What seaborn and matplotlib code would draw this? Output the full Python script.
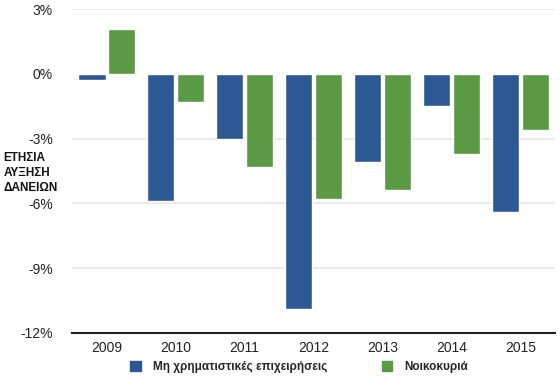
import matplotlib
matplotlib.use("Agg")
import matplotlib.pyplot as plt
import seaborn as sns
import pandas as pd
from matplotlib.patches import Patch

years = ["2009", "2010", "2011", "2012", "2013", "2014", "2015"]
series_names = ["Μη χρηματιστικές επιχειρήσεις", "Νοικοκυριά"]
nfc = [-0.3, -5.9, -3.0, -10.9, -4.1, -1.5, -6.4]
households = [2.1, -1.3, -4.3, -5.8, -5.4, -3.7, -2.6]
yticks = [3, 0, -3, -6, -9, -12]
ylabel = "ΕΤΗΣΙΑ\nΑΥΞΗΣΗ\nΔΑΝΕΙΩΝ"

colors = ["#2c5893", "#5b9a45"]

df = pd.DataFrame({
    "year": years * 2,
    "value": nfc + households,
    "series": [series_names[0]] * len(years) + [series_names[1]] * len(years),
})

sns.set_style("white")
plt.rcParams["font.family"] = ["Liberation Sans", "DejaVu Sans"]

fig = plt.figure(figsize=(5.6, 3.8), dpi=100)
ax = fig.add_axes([0.129, 0.124, 0.862, 0.852])

sns.barplot(data=df, x="year", y="value", hue="series", palette=colors,
            width=0.86, gap=0.08, ax=ax, legend=False, saturation=1)

ax.set_ylim(-12, 3)
ax.set_yticks(yticks)
ax.set_yticklabels([f"{t}%" for t in yticks], fontsize=10, color="#222222")
ax.tick_params(axis="x", labelsize=10, colors="#222222", length=0, pad=6)
ax.tick_params(axis="y", length=0, pad=14)
for t in [3, -3, -6, -9]:
    ax.axhline(t, color="#e6e6e6", lw=1.2, zorder=0)
ax.set_xlabel("")
ax.set_ylabel("")
for s in ["top", "right", "left"]:
    ax.spines[s].set_visible(False)
ax.spines["bottom"].set_color("#222222")
ax.spines["bottom"].set_linewidth(1.5)

fig.text(0.006, 0.545, ylabel, fontsize=8.5, fontweight="bold", ha="left",
         va="center", linespacing=1.35, color="#111111")

handles = [Patch(facecolor=c, edgecolor=c) for c in colors]
fig.legend(handles, series_names, loc="lower left", bbox_to_anchor=(0.214, -0.01),
           ncol=2, frameon=False, prop={"size": 8.5, "weight": "bold"},
           handlelength=0.9, handleheight=0.9, columnspacing=4.6, handletextpad=1.0)

fig.savefig("out.png", dpi=100)
